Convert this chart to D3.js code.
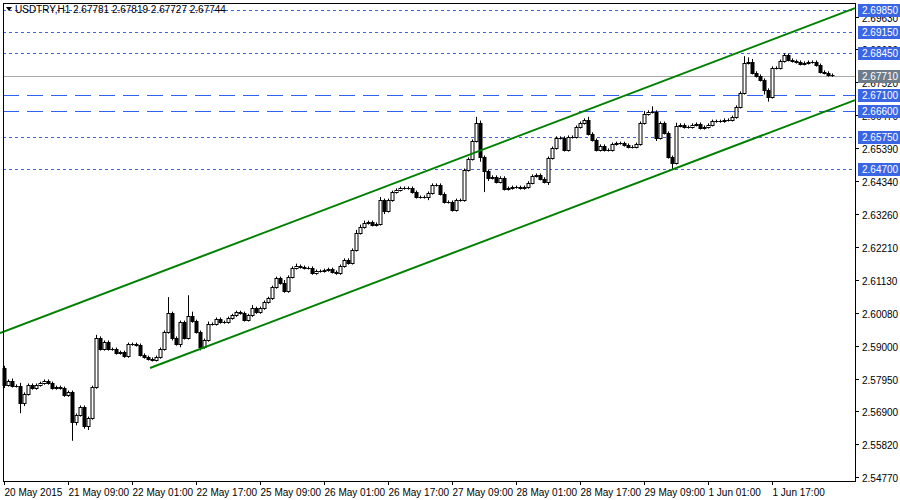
<!DOCTYPE html>
<html><head><meta charset="utf-8">
<script src="https://d3js.org/d3.v7.min.js"></script>
<style>body{margin:0;background:#fff}svg{display:block}text{font-family:"Liberation Sans",Arial,sans-serif}</style>
</head><body><svg id="c" width="900" height="500"></svg>
<script>
const firstOpen = 2.5828;
const closes = [
2.5774,2.5787,2.5771,2.5771,2.5716,2.5745,2.5774,2.5764,2.5774,2.5780,2.5787,2.5780,2.5764,2.5767,2.5764,2.5741,
2.5751,2.5654,2.5677,2.5703,2.5641,2.5667,2.5767,2.5926,2.5890,2.5913,2.5890,2.5890,2.5877,2.5880,2.5867,2.5906,
2.5906,2.5903,2.5871,2.5864,2.5858,2.5855,2.5864,2.5890,2.5945,2.6006,2.5926,2.5906,2.5977,2.5926,2.5996,2.5980,
2.5945,2.5896,2.5919,2.5971,2.5971,2.5987,2.5977,2.5977,2.5990,2.5999,2.6009,2.6006,2.5984,2.5999,2.6022,2.6009,
2.6022,2.6042,2.6054,2.6090,2.6119,2.6103,2.6077,2.6123,2.6152,2.6158,2.6155,2.6152,2.6152,2.6135,2.6142,2.6142,
2.6145,2.6148,2.6139,2.6135,2.6158,2.6178,2.6168,2.6210,2.6265,2.6284,2.6297,2.6300,2.6291,2.6294,2.6371,2.6336,
2.6371,2.6397,2.6404,2.6410,2.6410,2.6410,2.6397,2.6381,2.6381,2.6381,2.6394,2.6420,2.6420,2.6391,2.6365,2.6365,
2.6339,2.6371,2.6371,2.6468,2.6504,2.6562,2.6620,2.6510,2.6465,2.6443,2.6446,2.6430,2.6443,2.6407,2.6410,2.6413,
2.6413,2.6410,2.6413,2.6427,2.6449,2.6452,2.6440,2.6430,2.6507,2.6539,2.6572,2.6572,2.6533,2.6575,2.6575,2.6607,
2.6620,2.6630,2.6585,2.6565,2.6533,2.6546,2.6533,2.6533,2.6552,2.6555,2.6555,2.6549,2.6543,2.6543,2.6552,2.6620,
2.6649,2.6656,2.6656,2.6572,2.6620,2.6588,2.6510,2.6491,2.6611,2.6614,2.6607,2.6607,2.6614,2.6617,2.6604,2.6607,
2.6614,2.6626,2.6626,2.6626,2.6630,2.6630,2.6639,2.6672,2.6717,2.6814,2.6817,2.6782,2.6772,2.6759,2.6727,2.6704,
2.6798,2.6798,2.6820,2.6840,2.6824,2.6820,2.6817,2.6811,2.6814,2.6817,2.6817,2.6807,2.6785,2.6782,2.6775,2.6774];
// wick lengths in pips (0.0001)
const wickUp = [
8,5,8,5,10,5,5,5,5,5,5,5,5,5,5,5,
5,5,5,5,5,5,5,10,5,5,5,5,5,5,5,5,
5,5,5,5,5,5,5,5,5,52,5,5,5,5,68,15,
5,5,5,8,5,5,5,5,5,5,5,5,5,5,10,5,
5,5,5,5,5,5,10,5,5,8,5,5,5,5,5,5,
5,5,5,5,5,5,5,5,10,8,8,5,5,5,10,5,
5,5,5,5,5,5,5,5,5,5,5,5,5,5,5,5,
5,5,5,5,5,5,20,8,5,5,5,5,5,5,5,5,
5,5,5,5,5,5,5,5,5,5,5,5,5,5,5,5,
5,5,10,5,5,5,5,5,5,5,5,5,5,5,5,5,
10,5,18,5,5,5,5,5,10,5,5,5,5,5,5,5,
5,5,5,5,5,5,5,5,5,22,15,10,5,5,5,5,
5,5,5,5,5,5,5,5,5,5,5,5,5,5,5,5];
const wickDown = [
10,5,5,5,33,10,5,5,5,5,5,5,5,5,5,5,
5,60,10,5,8,12,5,5,5,5,5,5,5,5,5,5,
5,5,5,5,5,5,5,5,5,5,8,5,10,5,5,5,
5,10,5,5,5,5,5,5,5,5,5,5,5,5,5,5,
5,5,5,5,5,5,5,5,5,5,5,5,5,5,5,5,
5,5,5,5,5,5,5,5,5,5,5,5,5,5,5,10,
5,5,5,5,5,5,5,5,5,5,10,5,5,5,5,5,
5,5,5,5,5,5,5,15,68,10,5,5,5,5,5,5,
5,5,5,5,5,5,5,5,10,5,5,5,5,5,5,5,
5,5,5,5,5,5,5,5,5,5,5,5,5,5,5,5,
5,5,5,10,5,5,5,23,5,5,5,5,5,5,5,5,
5,5,5,5,5,5,5,5,5,5,5,5,5,5,15,15,
5,5,5,5,5,5,5,5,5,5,5,5,5,5,5,5];
const timeLabels = ["20 May 2015","21 May 09:00","22 May 01:00","22 May 17:00","25 May 09:00","26 May 01:00","26 May 17:00","27 May 09:00","28 May 01:00","28 May 17:00","29 May 09:00","1 Jun 01:00","1 Jun 17:00"];
const priceTicks = [2.54770,2.55820,2.56900,2.57950,2.59000,2.60080,2.61130,2.62210,2.63260,2.64340,2.65390,2.66470,2.67520,2.68600,2.69630];
const dottedLevels = [2.69850,2.69150,2.68450,2.65750,2.64700];
const dashedLevels = [2.67100,2.66600];
const currentPrice = 2.67710;
const upperChannel = [[-1,2.5942],[212.75,2.6991]];
const lowerChannel = [[36.5,2.5829],[212.75,2.6694]];

const svg = d3.select("#c");
const W=855, topY=3, bottomY=481;
const x = d3.scaleLinear().domain([0,closes.length-1]).range([4,832]);
const y = d3.scaleLinear().domain([2.54770,2.69850]).range([477,10]);
const blue="#3a66e6";
dottedLevels.forEach(v=>svg.append("line").attr("x1",3).attr("x2",W).attr("y1",Math.round(y(v))+.5).attr("y2",Math.round(y(v))+.5).attr("stroke",blue).attr("stroke-dasharray","3,3"));
dashedLevels.forEach(v=>svg.append("line").attr("x1",3).attr("x2",W).attr("y1",Math.round(y(v))+.5).attr("y2",Math.round(y(v))+.5).attr("stroke","#2f63f0").attr("stroke-width",1.2).attr("stroke-dasharray","16,8"));
svg.append("line").attr("x1",3).attr("x2",W).attr("y1",Math.round(y(currentPrice))+.5).attr("y2",Math.round(y(currentPrice))+.5).attr("stroke","#aaaaaa");
const g = svg.append("g");
closes.forEach((c,i)=>{
  const o = i===0?firstOpen:closes[i-1];
  const hi = Math.max(o,c)+wickUp[i]/10000, lo=Math.min(o,c)-wickDown[i]/10000;
  const cx = Math.round(x(i))+.5;
  g.append("line").attr("x1",cx).attr("x2",cx).attr("y1",y(hi)).attr("y2",y(lo)).attr("stroke","#000");
  const y1=Math.round(y(Math.max(o,c))), y2=Math.round(y(Math.min(o,c)));
  g.append("rect").attr("x",cx-1.5).attr("y",y1+.5).attr("width",3).attr("height",Math.max(0.01,y2-y1))
   .attr("fill",c>=o?"#fff":"#000").attr("stroke","#000");
});
const ln = d3.line().x(d=>x(d[0])).y(d=>y(d[1]));
[upperChannel,lowerChannel].forEach(d=>svg.append("path").attr("d",ln(d)).attr("stroke","#008000").attr("stroke-width",2).attr("fill","none"));
svg.append("rect").attr("x",W+.5).attr("y",0).attr("width",45).attr("height",500).attr("fill","#fff");
svg.append("rect").attr("x",0).attr("y",bottomY+.5).attr("width",900).attr("height",20).attr("fill","#fff");
svg.append("rect").attr("x",3.5).attr("y",topY+.5).attr("width",W-3).attr("height",bottomY-topY).attr("fill","none").attr("stroke","#000");
priceTicks.forEach(v=>{
  const yy=Math.round(y(v))+.5;
  svg.append("line").attr("x1",W).attr("x2",W+4).attr("y1",yy).attr("y2",yy).attr("stroke","#000");
  svg.append("text").attr("x",862).attr("y",yy+4).attr("font-size",10).text(v.toFixed(5));
});
[...dottedLevels,...dashedLevels,currentPrice].forEach(v=>{
  const yy=Math.round(y(v));
  svg.append("rect").attr("x",858).attr("y",yy-6).attr("width",42).attr("height",13).attr("fill",v===currentPrice?"#6e7b8b":blue);
  svg.append("text").attr("x",862).attr("y",yy+4).attr("font-size",10).attr("fill","#fff").text(v.toFixed(5));
});
timeLabels.forEach((t,k)=>{
  const xx=Math.round(x(k*16))+.5;
  svg.append("line").attr("x1",xx).attr("x2",xx).attr("y1",bottomY).attr("y2",bottomY+4).attr("stroke","#000");
  svg.append("text").attr("x",xx).attr("y",496).attr("font-size",10).text(t);
});
svg.append("path").attr("d","M6,7 L12,7 L9,11 Z").attr("fill","#000");
svg.append("text").attr("x",15).attr("y",13).attr("font-size",10).text("USDTRY,H1  2.67781 2.67819 2.67727 2.67744");
</script></body></html>
